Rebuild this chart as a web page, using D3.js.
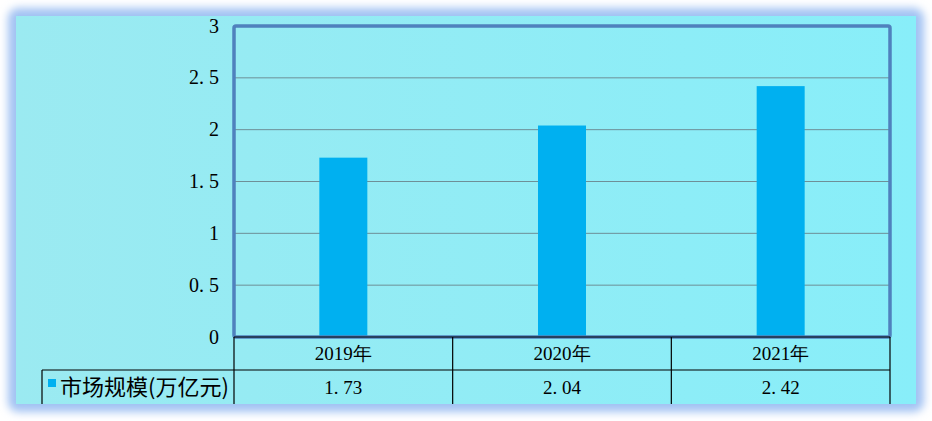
<!DOCTYPE html>
<html><head><meta charset="utf-8">
<script src="https://cdn.jsdelivr.net/npm/d3@7"></script>
<style>body{margin:0;background:#fff;overflow:hidden}svg{display:block}</style>
</head><body>
<script>
const categories = ["2019年", "2020年", "2021年"];
const values = [1.73, 2.04, 2.42];
const valueLabels = ["1.73", "2.04", "2.42"];
const yTicks = [0, 0.5, 1, 1.5, 2, 2.5, 3];
const seriesName = "市场规模(万亿元)";

(function () {
const W = 932, H = 421;
const svg = d3.select("body").append("svg").attr("width", W).attr("height", H);
const defs = svg.append("defs");
const grad = defs.append("linearGradient").attr("id", "bg").attr("x1", 0).attr("x2", 1).attr("y1", 0).attr("y2", 0);
grad.append("stop").attr("offset", 0).attr("stop-color", "#9beaf1");
grad.append("stop").attr("offset", 1).attr("stop-color", "#88eef9");
const blur = defs.append("filter").attr("id", "glow").attr("x", -0.1).attr("y", -0.1).attr("width", 1.2).attr("height", 1.2);
blur.append("feGaussianBlur").attr("stdDeviation", 4);

// panel glow + panel
svg.append("rect").attr("x", 8).attr("y", 8).attr("width", 916).attr("height", 404).attr("rx", 10)
  .attr("fill", "#a2c2f3").attr("filter", "url(#glow)");
svg.append("rect").attr("x", 16).attr("y", 16).attr("width", 900).attr("height", 388).attr("fill", "url(#bg)");

const pLeft = 234, pRight = 890, pTop = 26, pBottom = 337;
const x = d3.scaleBand().domain(categories).range([pLeft, pRight]).paddingInner(0).paddingOuter(0);
const y = d3.scaleLinear().domain([0, 3]).range([pBottom, pTop]);
const barW = 48;

// gridlines
svg.append("g").selectAll("line").data(yTicks.filter(t => t > 0 && t < 3)).join("line")
  .attr("x1", pLeft).attr("x2", pRight).attr("y1", d => y(d)).attr("y2", d => y(d))
  .attr("stroke", "#6e8f97").attr("stroke-width", 1);

// bars
svg.append("g").selectAll("rect").data(values).join("rect")
  .attr("x", (d, i) => x(categories[i]) + x.bandwidth() / 2 - barW / 2)
  .attr("width", barW)
  .attr("y", d => y(d)).attr("height", d => y(0) - y(d))
  .attr("fill", "#00b0f0");

// plot border
svg.append("rect").attr("x", pLeft).attr("y", pTop).attr("width", pRight - pLeft).attr("height", pBottom - pTop)
  .attr("fill", "none").attr("stroke", "#4f81bd").attr("stroke-width", 3.5).attr("rx", 2);

// y axis labels
const yAxis = d3.axisLeft(y).tickValues(yTicks).tickSize(0).tickPadding(0)
  .tickFormat(d => d3.format("")(d).replace(".", ". "));
const ga = svg.append("g").attr("transform", `translate(${219},0)`).call(yAxis);
ga.select(".domain").remove();
ga.selectAll("text").attr("font-family", "'Liberation Serif', serif").attr("font-size", 20).attr("fill", "#000")
  .style("white-space", "pre").attr("dy", "0.3em");

// data table
const row1 = 370, row2 = 404, legendLeft = 42;
const tg = svg.append("g").attr("stroke", "#000").attr("stroke-width", 1.2);
tg.append("line").attr("x1", pLeft).attr("x2", pRight).attr("y1", pBottom).attr("y2", pBottom);
tg.append("line").attr("x1", legendLeft).attr("x2", pRight).attr("y1", row1).attr("y2", row1);
const vx = [pLeft].concat(categories.map(c => x(c) + x.bandwidth()));
tg.selectAll("line.v").data(vx).join("line").attr("class", "v")
  .attr("x1", d => d).attr("x2", d => d).attr("y1", pBottom).attr("y2", row2);
tg.append("line").attr("x1", legendLeft).attr("x2", legendLeft).attr("y1", row1).attr("y2", row2);

svg.append("g").selectAll("text").data(categories).join("text")
  .attr("x", d => x(d) + x.bandwidth() / 2).attr("y", (pBottom + row1) / 2).attr("dy", "0.35em")
  .attr("text-anchor", "middle").attr("font-family", "'Liberation Serif', serif").attr("font-size", 19)
  .text(d => d);
svg.append("g").selectAll("text").data(valueLabels).join("text")
  .attr("x", (d, i) => x(categories[i]) + x.bandwidth() / 2).attr("y", 387).attr("dy", "0.35em")
  .attr("text-anchor", "middle").attr("font-family", "'Liberation Serif', serif").attr("font-size", 19)
  .style("white-space", "pre")
  .text(d => d.replace(".", ". "));

// legend
svg.append("rect").attr("x", 48).attr("y", 379).attr("width", 8).attr("height", 8).attr("fill", "#00b0f0");
svg.append("text").attr("x", 60).attr("y", 388).attr("dy", "0.33em")
  .attr("font-family", "'Noto Sans CJK SC', sans-serif").attr("font-size", 22).attr("fill", "#000")
  .text(seriesName);
})();
</script>
</body></html>
